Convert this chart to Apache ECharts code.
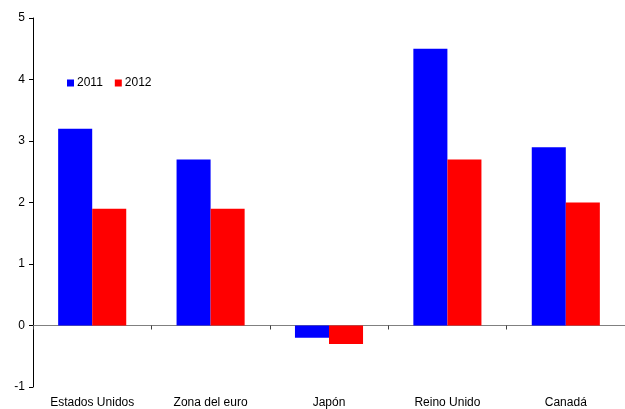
<!DOCTYPE html>
<html><head><meta charset="utf-8">
<script src="https://cdn.jsdelivr.net/npm/echarts@6/dist/echarts.min.js"></script>
<style>html,body{margin:0;padding:0;background:#fff}#c{width:625px;height:409px}</style>
</head><body><div id="c"></div>
<script>
const categories = ["Estados Unidos", "Zona del euro", "Japón", "Reino Unido", "Canadá"];
const values2011 = [3.2, 2.7, -0.2, 4.5, 2.9];
const values2012 = [1.9, 1.9, -0.3, 2.7, 2.0];
const seriesNames = ["2011", "2012"];

const chart = echarts.init(document.getElementById('c'), null, {renderer: 'canvas'});
const font = 'Liberation Sans, Arial, sans-serif';
chart.setOption({
  animation: false,
  backgroundColor: '#fff',
  textStyle: {fontFamily: font},
  grid: {left: 33, right: 0, top: 18, bottom: 21, containLabel: false},
  legend: {
    data: seriesNames, left: 62, top: 72, itemWidth: 7, itemHeight: 7, itemGap: 12,
    icon: 'rect',
    textStyle: {fontFamily: font, fontSize: 12, color: '#000', padding: [0, 0, 0, -2]}
  },
  xAxis: [{
    type: 'category', data: categories, position: 'bottom',
    axisLine: {onZero: true, lineStyle: {color: '#808080', width: 1}},
    axisTick: {show: true, alignWithLabel: false, length: 4, inside: false, lineStyle: {color: '#404040'}},
    axisLabel: {show: false}
  }, {
    type: 'category', data: categories, position: 'bottom',
    axisLine: {show: false, onZero: false}, axisTick: {show: false},
    axisLabel: {show: true, fontFamily: font, fontSize: 12, color: '#000', margin: 10}
  }],
  yAxis: {
    type: 'value', min: -1, max: 5, interval: 1,
    axisLine: {show: true, lineStyle: {color: '#000', width: 1}},
    axisTick: {show: true, length: 4, lineStyle: {color: '#000'}},
    axisLabel: {fontFamily: font, fontSize: 12, color: '#000', margin: 8},
    splitLine: {show: false}
  },
  series: [{
    name: seriesNames[0], type: 'bar', data: values2011, xAxisIndex: 0,
    itemStyle: {color: '#0000ff'}, barGap: '0%', barCategoryGap: '42.5%'
  }, {
    name: seriesNames[1], type: 'bar', data: values2012, xAxisIndex: 0,
    itemStyle: {color: '#ff0000'}, barGap: '0%', barCategoryGap: '42.5%'
  }]
});
</script></body></html>
